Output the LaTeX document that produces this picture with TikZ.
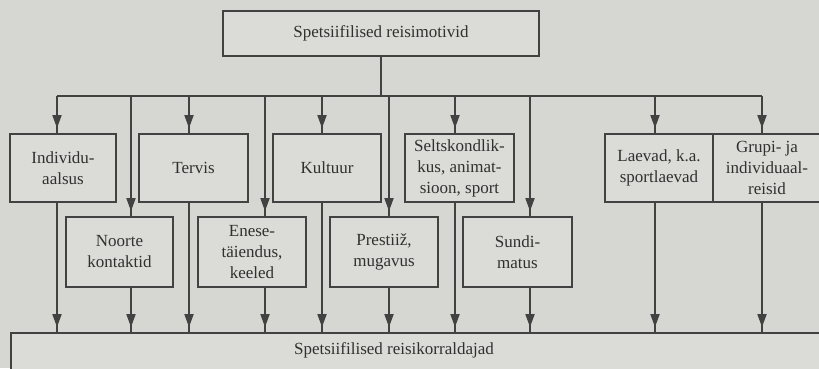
\documentclass[tikz,border=0pt]{standalone}
\usepackage{fontspec}
\setmainfont{Liberation Serif}
\usetikzlibrary{arrows.meta}
\definecolor{paper}{RGB}{214,214,211}
\definecolor{boxfill}{RGB}{219,219,216}
\definecolor{ink}{RGB}{66,66,66}
\definecolor{txt}{RGB}{48,48,48}
\tikzset{
  motive/.style={draw=ink, fill=boxfill, line width=1.7pt, inner sep=0pt,
    align=center, text=txt, font=\fontsize{17}{21}\selectfont},
  wire/.style={draw=ink, line width=1.7pt},
  feed/.style={wire, -{Triangle[width=9pt,length=13pt]}, shorten >=5pt,
    postaction={draw=ink, line width=1.7pt, -, shorten >=0pt}},
}
\begin{document}
\begin{tikzpicture}[x=1pt,y=-1pt]
\fill[paper] (0,0) rectangle (819,368);
\useasboundingbox (0,0) rectangle (819,368);
\clip (0,0) rectangle (819,368);

% top and bottom boxes
\node[motive, minimum width=316pt, minimum height=45pt] (top) at (381,33.5) {Spetsiifilised reisimotivid};
\node[motive, minimum width=819pt, minimum height=57pt] (org) at (420.5,361.5) {};
\node[text=txt, font=\fontsize{17}{21}\selectfont] (orgtext) at (394,350) {Spetsiifilised reisikorraldajad};

% first row of motives
\node[motive, minimum width=106pt, minimum height=68pt] (ind) at (63,168) {Individu-\\aalsus};
\node[motive, minimum width=109pt, minimum height=68pt] (ter) at (193.5,168) {Tervis};
\node[motive, minimum width=108pt, minimum height=68pt] (kul) at (327,168) {Kultuur};
\node[motive, minimum width=109pt, minimum height=68pt] (sel) at (459.5,168) {Seltskondlik-\\kus, animat-\\sioon, sport};
\node[motive, minimum width=108pt, minimum height=68pt] (lae) at (659,168) {Laevad, k.a.\\sportlaevad};
\node[motive, minimum width=108pt, minimum height=68pt] (gru) at (767,168) {Grupi- ja\\individuaal-\\reisid};

% second row of motives
\node[motive, minimum width=107pt, minimum height=70pt] (noo) at (119.5,252) {Noorte\\kontaktid};
\node[motive, minimum width=108pt, minimum height=70pt] (ene) at (252,252) {Enese-\\täiendus,\\keeled};
\node[motive, minimum width=108pt, minimum height=70pt] (pre) at (384,252) {Prestiiž,\\mugavus};
\node[motive, minimum width=109pt, minimum height=70pt] (sun) at (517.5,252) {Sundi-\\matus};

% distribution bus
\coordinate (b1) at (57,96);
\coordinate (b2) at (131,96);
\coordinate (b3) at (189,96);
\coordinate (b4) at (265,96);
\coordinate (b5) at (322,96);
\coordinate (b6) at (389,96);
\coordinate (b7) at (455,96);
\coordinate (b8) at (530,96);
\coordinate (b9) at (655,96);
\coordinate (b10) at (762,96);
\draw[wire] (top.south) -- (top.south |- b1);
\draw[wire] (b1) -- (b10);

% bus to first row, first row to organisers
\foreach \b/\n in {b1/ind, b3/ter, b5/kul, b7/sel, b9/lae, b10/gru} {
  \draw[feed] (\b) -- (\b |- \n.north);
  \draw[feed] (\b |- \n.south) -- (\b |- org.north);
}
% bus to second row, second row to organisers
\foreach \b/\n in {b2/noo, b4/ene, b6/pre, b8/sun} {
  \draw[feed] (\b) -- (\b |- \n.north);
  \draw[feed] (\b |- \n.south) -- (\b |- org.north);
}
\end{tikzpicture}
\end{document}
